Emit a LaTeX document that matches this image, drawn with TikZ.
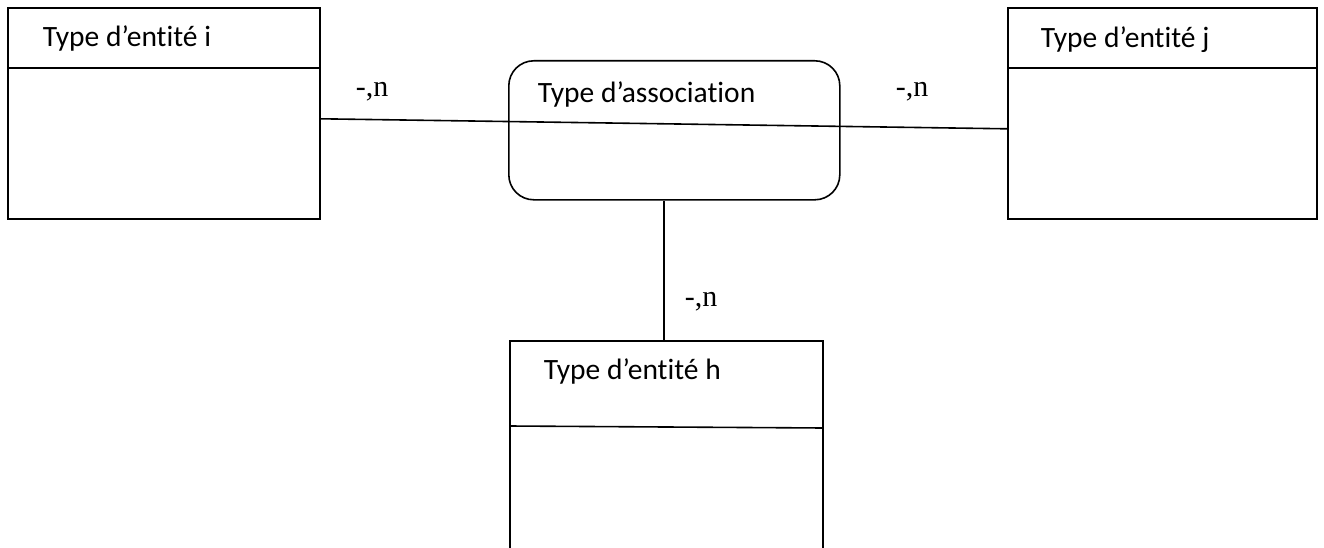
\documentclass[tikz,border=0pt]{standalone}
\usepackage{fontspec}
\setmainfont[Ligatures=NoCommon]{Carlito}
\newfontfamily\cardfont{Liberation Serif}
\begin{document}
\begin{tikzpicture}[x=1pt,y=-1pt,
  line width=1.6pt,
  entitybox/.style={draw, rectangle, inner sep=0pt, anchor=north west},
  assocbox/.style={draw, rectangle, rounded corners=25pt, inner sep=0pt, anchor=north west},
  title/.style={anchor=base west, inner sep=0pt, font=\fontsize{29.5}{34}\selectfont},
  card/.style={anchor=base west, inner sep=0pt, font=\cardfont\fontsize{30}{36}\selectfont}]
  \useasboundingbox (0,0) rectangle (1324,548);
  \clip (0,0) rectangle (1324,548);

  % entity types and the association
  \node[entitybox, minimum width=312pt, minimum height=211pt] (ei) at (7,7) {};
  \node[entitybox, minimum width=309pt, minimum height=211pt] (ej) at (1007,7) {};
  \node[entitybox, minimum width=313pt, minimum height=240pt] (eh) at (509,340) {};
  \node[assocbox, minimum width=331pt, minimum height=139pt] (as) at (508,60) {};

  % header separators
  \draw ([yshift=-61pt]ei.north west) -- ([yshift=-61pt]ei.north east);
  \draw ([yshift=-61pt]ej.north west) -- ([yshift=-61pt]ej.north east);
  \draw ([yshift=-86pt]eh.north west) -- ([yshift=-88pt]eh.north east);

  % titles
  \node[title] (ti) at (42,47) {Type d’entité i};
  \node[title] (tj) at (1040,48) {Type d’entité j};
  \node[title] (ta) at (537,103) {Type d’association};
  \node[title] (th) at (543,379) {Type d’entité h};

  % links
  \draw ([yshift=-5.5pt]ei.east) -- ([yshift=-15.5pt]ej.west);
  \draw ([xshift=-2.5pt]eh.north) -- ([xshift=-2.5pt]eh.north |- as.south);

  % cardinalities
  \node[card] (ci) at (355,97) {-,n};
  \node[card] (cj) at (895,97) {-,n};
  \node[card] (ch) at (684,306) {-,n};
\end{tikzpicture}
\end{document}
